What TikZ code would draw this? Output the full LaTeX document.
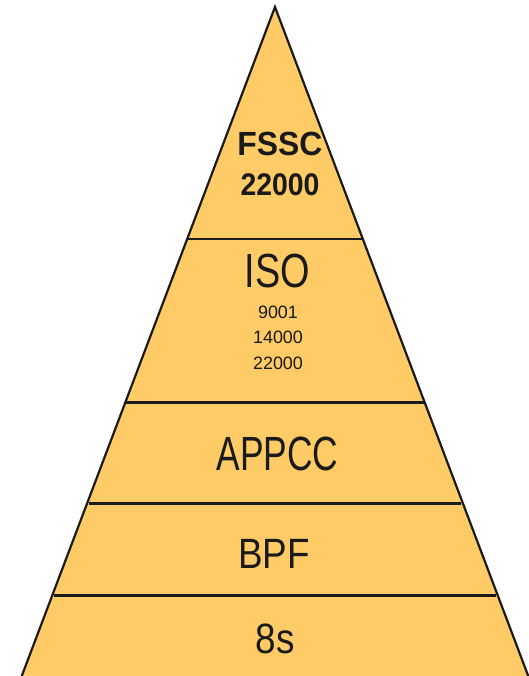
\documentclass[tikz,border=0pt]{standalone}
\usepackage{fontspec}
\setmainfont{Liberation Sans}
\usetikzlibrary{calc}
\definecolor{pyrfill}{RGB}{254,203,102}
\definecolor{pyrline}{RGB}{26,26,26}
\tikzset{
  edgeline/.style={draw=pyrline, line width=2.2bp},
  tierline/.style={draw=pyrline, line width=2.2bp, shorten <=2bp, shorten >=2bp},
  bigtxt/.style={font=\fontsize{37}{37}\selectfont, text=pyrline, inner sep=0pt, anchor=base, yscale=1.15, transform shape},
  boldtxt/.style={font=\bfseries\fontsize{32}{32}\selectfont, text=pyrline, inner sep=0pt, anchor=base, yscale=1.05, transform shape},
  smalltxt/.style={font=\fontsize{18}{18}\selectfont, text=pyrline, inner sep=0pt, anchor=base},
}
\begin{document}
\begin{tikzpicture}[x=1bp,y=-1bp]
\useasboundingbox (0,0) rectangle (529,676);
\coordinate (apex) at (275,7);
\coordinate (bl) at (21,678);
\coordinate (br) at (529,678);
\fill[pyrfill] (apex) -- (bl) -- (br) -- cycle;
\draw[edgeline, line join=miter] (bl) -- (apex) -- (br);
% tier boundaries on the edges
\foreach \n/\t in {a/0.3462,b/0.5894,c/0.7399,d/0.8770}{
  \coordinate (l\n) at ($(apex)!\t!(bl)$);
  \coordinate (r\n) at ($(apex)!\t!(br)$);
}
\draw[edgeline] (la) -- (ra);
\draw[edgeline] (lb) -- (rb);
\draw[tierline] (lc) -- (rc);
\draw[tierline] (ld) -- (rd);
% texts
\node[boldtxt] (fssc) at (280,155) {FSSC};
\node[boldtxt, font=\bfseries\fontsize{28.5}{28.5}\selectfont, yscale=1.05] (fsscnum) at (280,195) {22000};
\node[bigtxt, font=\fontsize{38}{38}\selectfont, yscale=1.1] (iso) at (277.5,287) {ISO};
\node[smalltxt] (i9001) at (278,318) {9001};
\node[smalltxt] (i14000) at (278,343.5) {14000};
\node[smalltxt] (i22000) at (278,369) {22000};
\node[bigtxt, font=\fontsize{35.5}{35.5}\selectfont, yscale=1.18] (appcc) at (277.5,470) {APPCC};
\node[bigtxt] (bpf) at (274,568) {BPF};
\node[bigtxt] (eights) at (275,653) {8s};
\end{tikzpicture}
\end{document}
